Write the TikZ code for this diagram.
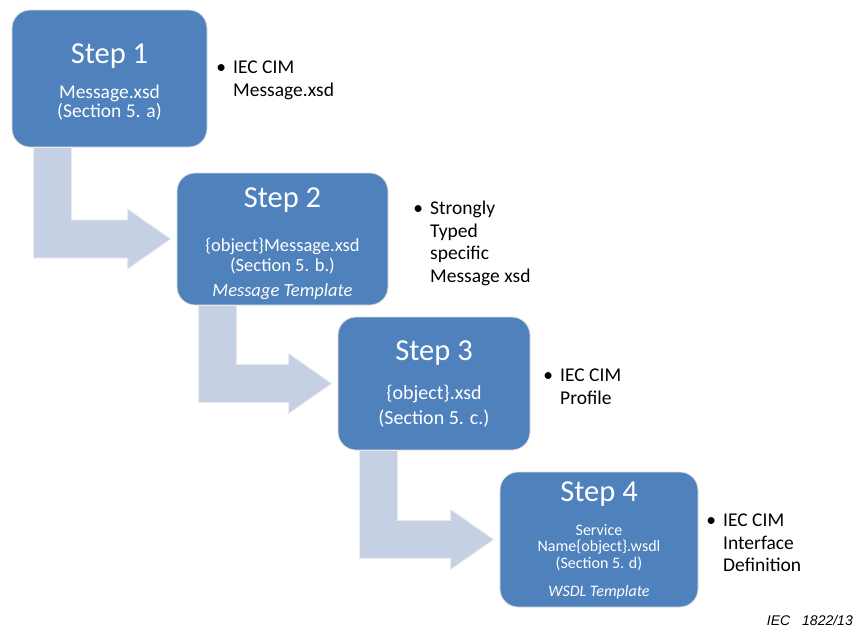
\documentclass[tikz,border=0pt]{standalone}
\usepackage{fontspec}
\setmainfont{Carlito}
\newfontfamily\iecfont{Liberation Sans}
\usetikzlibrary{calc}

\definecolor{stepblue}{HTML}{4F81BD}
\definecolor{flowblue}{HTML}{C6D0E4}
\newcommand\steptitle[2][0pt]{{\fontsize{30.5}{31}\selectfont\rule{0pt}{#1}#2}}

\begin{document}
\begin{tikzpicture}[x=1pt,y=-1pt,
	stepbox/.style={rounded corners=18pt,fill=stepblue,draw=black!12,line width=0.8pt,text=white,align=center,inner sep=0pt},
	flow/.style={fill=flowblue,draw=black!8,line width=0.8pt},
	note/.style={anchor=north west,align=left,inner sep=0pt,font=\fontsize{19.5}{22.5}\selectfont}]
	\useasboundingbox (0,0) rectangle (855,633);

	\node[stepbox,minimum width=195pt,minimum height=137pt,font=\fontsize{19.5}{18.5}\selectfont] (s1) at (109.5,78.5)
		{\steptitle[26pt]{Step 1}\\[17pt]Message.xsd\\(Section 5. a)};
	\node[stepbox,minimum width=211pt,minimum height=132pt,font=\fontsize{18.5}{20}\selectfont] (s2) at (282.5,239)
		{\steptitle[30pt]{Step 2}\\[24pt]\{object\}Message.xsd\\(Section 5. b.)\\[5pt]\textit{Message Template}};
	\node[stepbox,minimum width=192pt,minimum height=133pt,font=\fontsize{20}{25}\selectfont] (s3) at (434,383.5)
		{\steptitle{Step 3}\\[14pt]\{object\}.xsd\\(Section 5. c.)};
	\node[stepbox,minimum width=198pt,minimum height=135pt,font=\fontsize{16}{16.5}\selectfont] (s4) at (599,539.5)
		{\steptitle[22pt]{Step 4}\\[17pt]Service\\Name\{object\}.wsdl\\(Section 5. d)\\[12pt]\textit{WSDL Template}};

	\foreach \a/\b in {s1/s2,s2/s3,s3/s4}
		\path[flow] let \p1=(\a.south west), \p2=(\b.west) in
			(\x1+22pt,\y1) -- (\x1+60pt,\y1) -- (\x1+60pt,\y2+19pt) -- (\x2-49pt,\y2+19pt) -- (\x2-49pt,\y2+30pt)
			-- (\x2-6pt,\y2) -- (\x2-49pt,\y2-30pt) -- (\x2-49pt,\y2-19pt) -- (\x1+22pt,\y2-19pt) -- cycle;

	\node[note] (n1) at (233,61) {\llap{\textbullet\hspace{7pt}}IEC CIM\\Message.xsd};
	\node[note] (n2) at (430,201) {\llap{\textbullet\hspace{7pt}}Strongly\\Typed\\specific\\Message xsd};
	\node[note] (n3) at (560,369) {\llap{\textbullet\hspace{7pt}}IEC CIM\\Profile};
	\node[note] (n4) at (723,514) {\llap{\textbullet\hspace{7pt}}IEC CIM\\Interface\\Definition};

	\node[anchor=east,inner sep=0pt,font=\iecfont\itshape\fontsize{14}{16}\selectfont] (iec) at (853,620) {IEC\hspace{12pt}1822/13};
\end{tikzpicture}
\end{document}
